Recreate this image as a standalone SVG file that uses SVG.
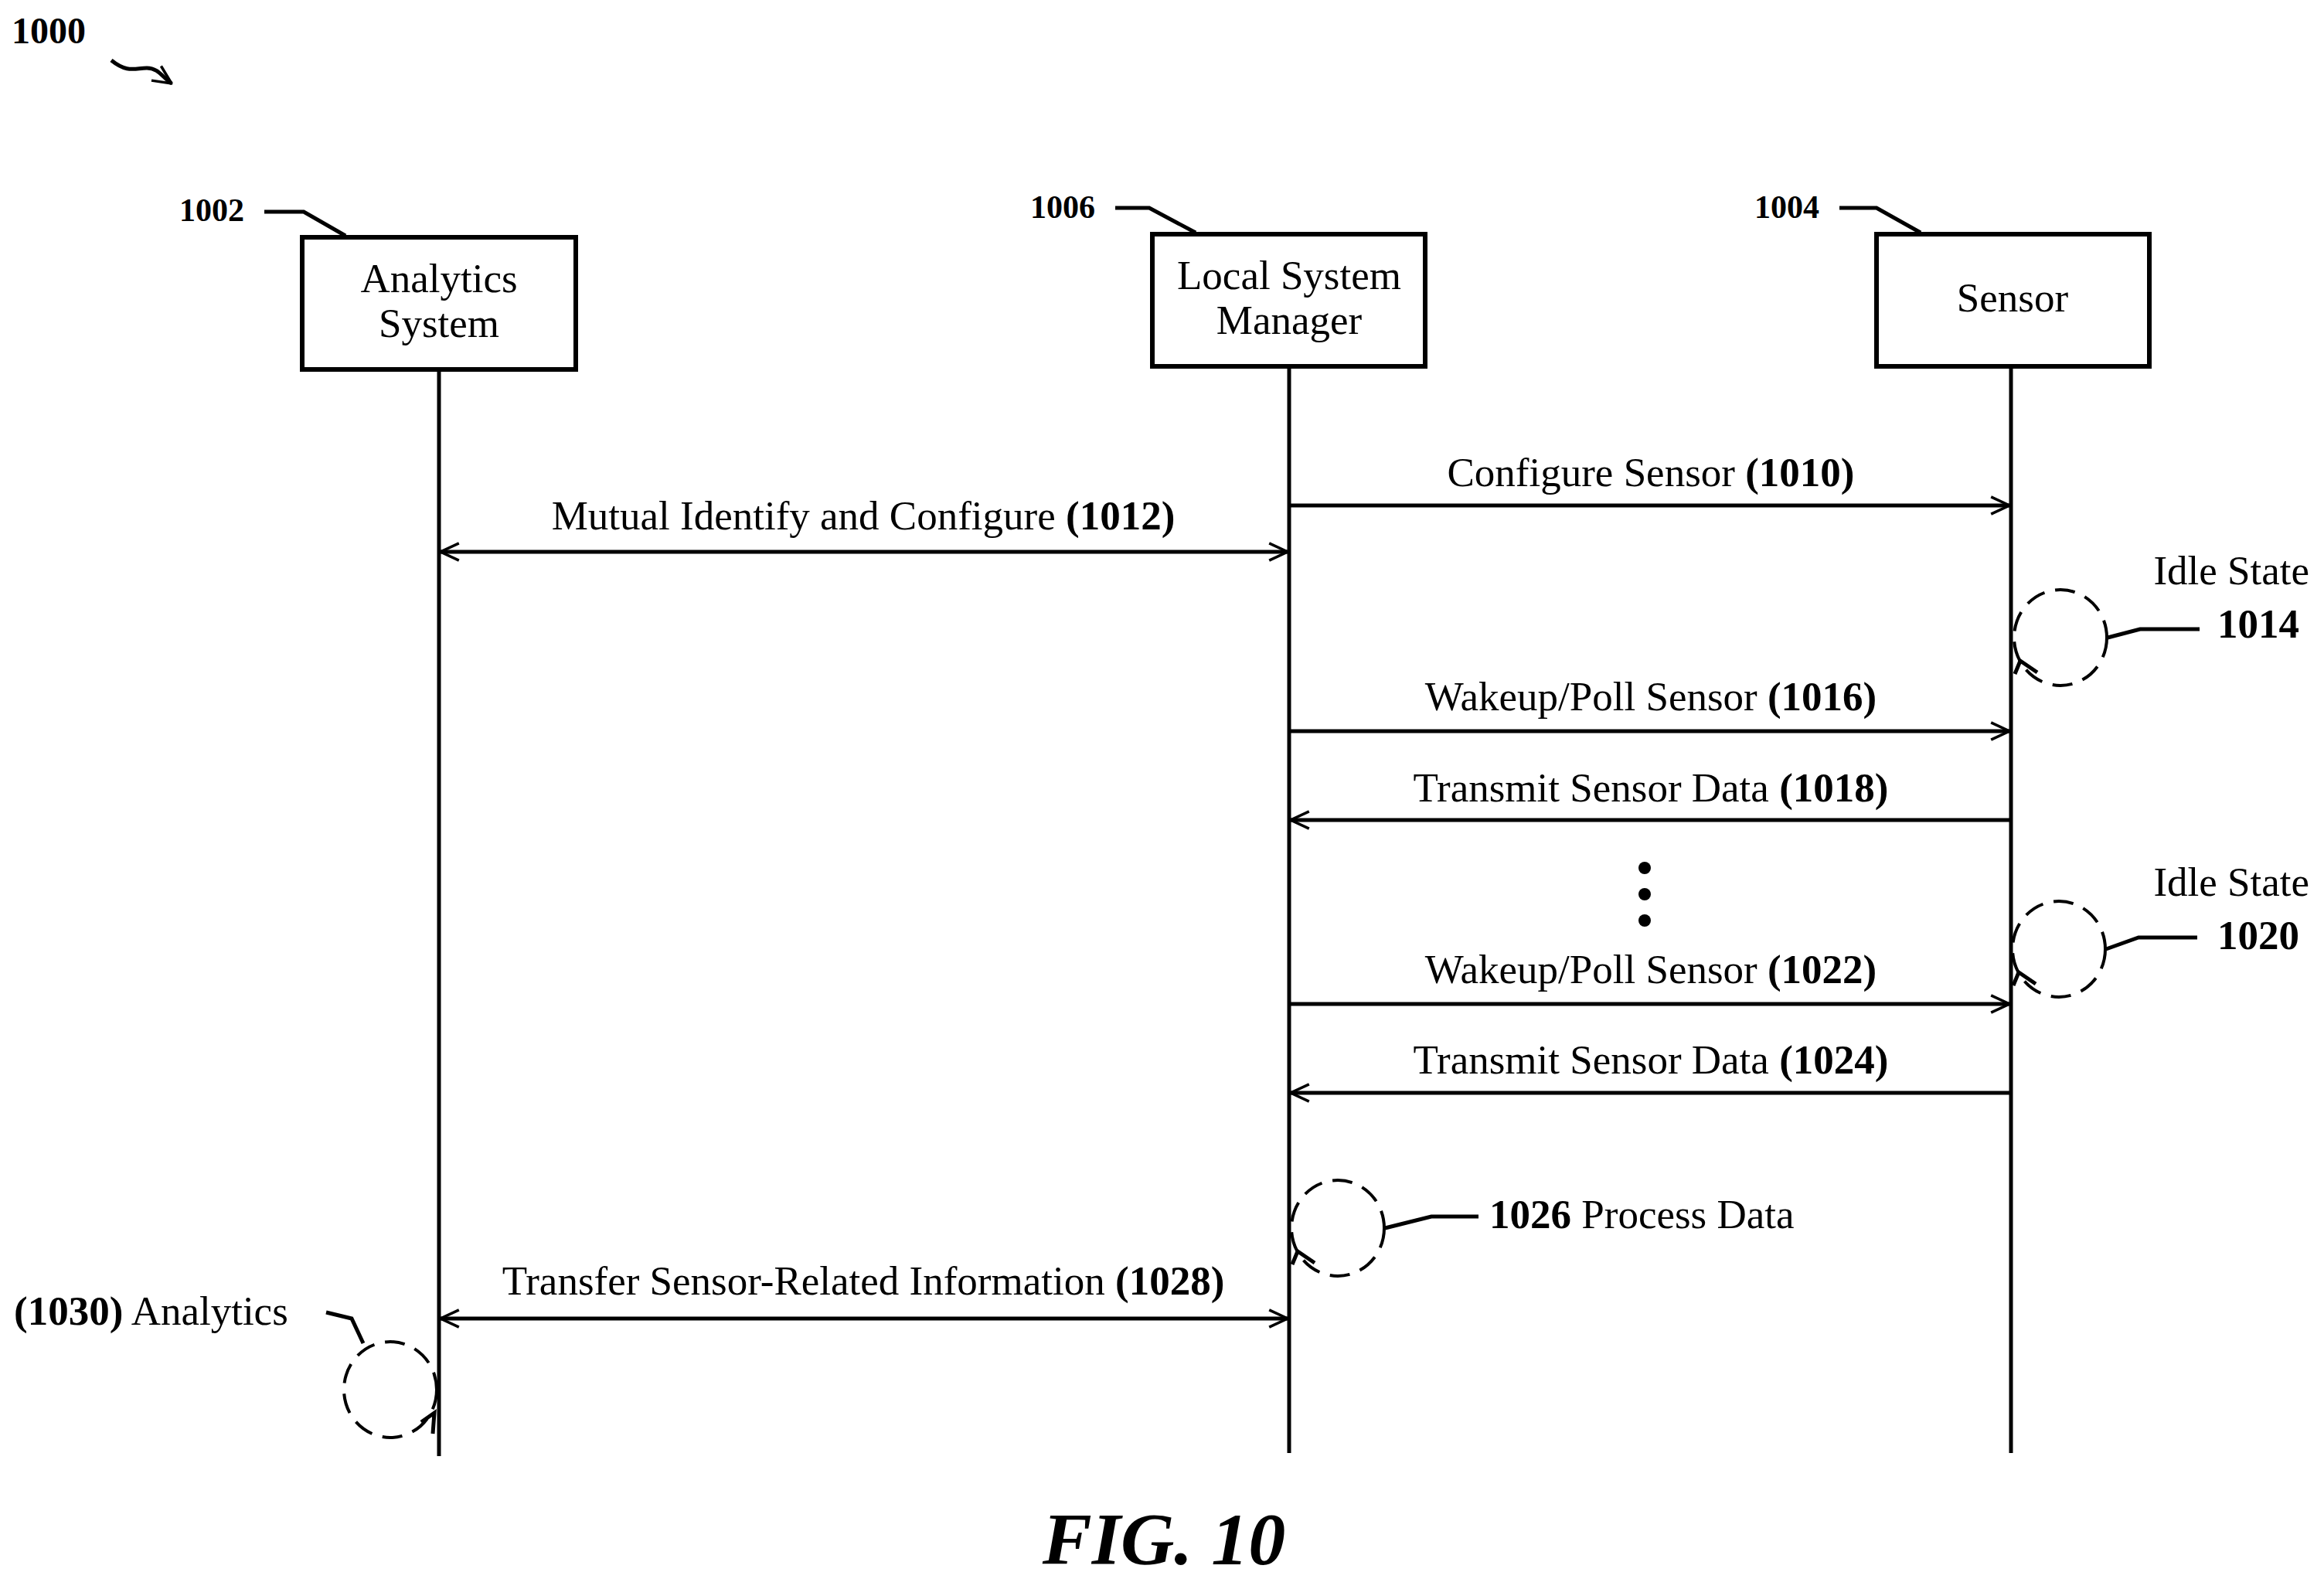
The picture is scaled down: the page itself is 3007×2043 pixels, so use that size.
<svg xmlns="http://www.w3.org/2000/svg" width="3007" height="2043" viewBox="0 0 3007 2043">
<style>
.t{font-family:"Liberation Serif","Times New Roman",serif;font-size:53px;fill:#000}
.b{font-weight:bold}
.n{font-size:42px;font-weight:bold}
.ln{stroke:#000;stroke-width:5;fill:none}
.box{stroke:#000;stroke-width:6;fill:#fff}
.dc{stroke:#000;stroke-width:4;fill:none;stroke-dasharray:26 14}
.fig{font-size:96px;font-weight:bold;font-style:italic}
</style>
<defs>
<marker id="ah" viewBox="0 0 20 20" refX="19" refY="10" markerWidth="28" markerHeight="28" markerUnits="userSpaceOnUse" orient="auto-start-reverse">
<path d="M2,2 L19,10 L2,18" fill="none" stroke="#000" stroke-width="2.5"/>
</marker>
</defs>
<rect width="3007" height="2043" fill="#fff"/>
<text class="t n" x="15" y="56" style="font-size:48px">1000</text>
<path class="ln" d="M144,78 C165,95 175,88 190,88 C205,88 210,100 222,108" marker-end="url(#ah)"/>

<g id="analytics">
<rect class="box" x="391" y="307" width="354" height="171"/>
<text class="t" x="568" y="378" text-anchor="middle">Analytics</text>
<text class="t" x="568" y="436" text-anchor="middle">System</text>
<text class="t n" x="232" y="286">1002</text>
<polyline class="ln" points="342,274 393,274 447,305"/>
</g>
<g id="lsm">
<rect class="box" x="1491" y="303" width="353" height="171"/>
<text class="t" x="1668" y="374" text-anchor="middle">Local System</text>
<text class="t" x="1668" y="432" text-anchor="middle">Manager</text>
<text class="t n" x="1333" y="282">1006</text>
<polyline class="ln" points="1443,269 1487,269 1547,301"/>
</g>
<g id="sensor">
<rect class="box" x="2428" y="303" width="353" height="171"/>
<text class="t" x="2604" y="403" text-anchor="middle">Sensor</text>
<text class="t n" x="2270" y="282">1004</text>
<polyline class="ln" points="2380,269 2428,269 2485,301"/>
</g>

<g id="connectors">
<line class="ln" x1="568" y1="478" x2="568" y2="1884"/>
<line class="ln" x1="1668" y1="474" x2="1668" y2="1880"/>
<line class="ln" x1="2602" y1="474" x2="2602" y2="1880"/>

<line class="ln" x1="1668" y1="654" x2="2600" y2="654" marker-end="url(#ah)"/>
<text class="t" x="2136" y="629" text-anchor="middle">Configure Sensor <tspan class="b">(1010)</tspan></text>

<line class="ln" x1="570" y1="714" x2="1666" y2="714" marker-start="url(#ah)" marker-end="url(#ah)"/>
<text class="t" x="1117" y="685" text-anchor="middle">Mutual Identify and Configure <tspan class="b">(1012)</tspan></text>

<line class="ln" x1="1668" y1="946" x2="2600" y2="946" marker-end="url(#ah)"/>
<text class="t" x="2136" y="919" text-anchor="middle">Wakeup/Poll Sensor <tspan class="b">(1016)</tspan></text>

<line class="ln" x1="2602" y1="1061" x2="1670" y2="1061" marker-end="url(#ah)"/>
<text class="t" x="2136" y="1037" text-anchor="middle">Transmit Sensor Data <tspan class="b">(1018)</tspan></text>

<circle cx="2128" cy="1123" r="8"/>
<circle cx="2128" cy="1157" r="8"/>
<circle cx="2128" cy="1191" r="8"/>

<line class="ln" x1="1668" y1="1299" x2="2600" y2="1299" marker-end="url(#ah)"/>
<text class="t" x="2136" y="1272" text-anchor="middle">Wakeup/Poll Sensor <tspan class="b">(1022)</tspan></text>

<line class="ln" x1="2602" y1="1414" x2="1670" y2="1414" marker-end="url(#ah)"/>
<text class="t" x="2136" y="1389" text-anchor="middle">Transmit Sensor Data <tspan class="b">(1024)</tspan></text>

<line class="ln" x1="570" y1="1706" x2="1666" y2="1706" marker-start="url(#ah)" marker-end="url(#ah)"/>
<text class="t" x="1117" y="1675" text-anchor="middle">Transfer Sensor-Related Information <tspan class="b">(1028)</tspan></text>
</g>

<g id="idle1014">
<ellipse class="dc" cx="2666" cy="825" rx="60" ry="62"/>
<polyline class="ln" points="2607,872 2614,855 2636,870"/>
<polyline class="ln" points="2727,825 2769,814 2846,814"/>
<text class="t" x="2988" y="756" text-anchor="end">Idle State</text>
<text class="t b" x="2975" y="825" text-anchor="end">1014</text>
</g>
<g id="idle1020">
<ellipse class="dc" cx="2664" cy="1228" rx="60" ry="62"/>
<polyline class="ln" points="2605,1275 2612,1258 2634,1273"/>
<polyline class="ln" points="2725,1228 2767,1213 2843,1213"/>
<text class="t" x="2988" y="1159" text-anchor="end">Idle State</text>
<text class="t b" x="2975" y="1228" text-anchor="end">1020</text>
</g>
<g id="process1026">
<ellipse class="dc" cx="1731" cy="1589" rx="60" ry="62"/>
<polyline class="ln" points="1672,1636 1679,1619 1701,1634"/>
<polyline class="ln" points="1792,1589 1852,1574 1913,1574"/>
<text class="t" x="1927" y="1589"><tspan class="b">1026</tspan> Process Data</text>
</g>
<g id="analytics1030">
<ellipse class="dc" cx="505" cy="1798" rx="60" ry="62"/>
<polyline class="ln" points="545,1840 562,1828 560,1855"/>
<polyline class="ln" points="422,1698 455,1706 470,1738"/>
<text class="t" x="18" y="1714"><tspan class="b">(1030)</tspan> Analytics</text>
</g>

<text class="t fig" x="1506" y="2024" text-anchor="middle">FIG. 10</text>
</svg>
